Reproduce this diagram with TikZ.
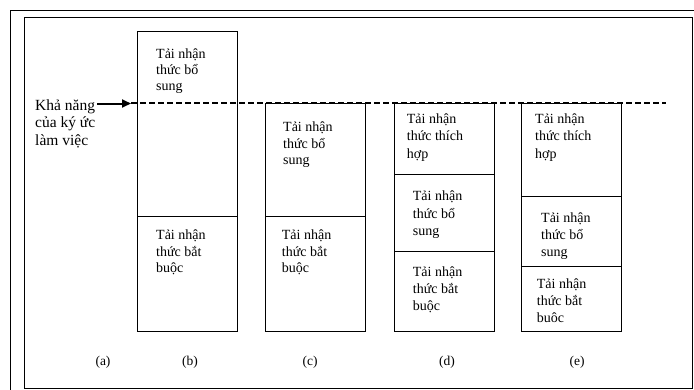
\documentclass[tikz,border=0pt]{standalone}
\usepackage{fontspec}
\setmainfont{Liberation Serif}
\usetikzlibrary{arrows.meta}
\tikzset{
  frameline/.style={line width=0.9pt, black},
  seg/.style={draw, line width=0.9pt, black, inner sep=0pt, outer sep=0pt, anchor=north west},
  txt/.style={anchor=base west, inner sep=0pt, font=\fontsize{14}{16}\selectfont},
  side/.style={anchor=base west, inner sep=0pt, font=\fontsize{15.5}{17}\selectfont},
  captionlbl/.style={anchor=base, inner sep=0pt, font=\fontsize{13.5}{15}\selectfont},
  capacity/.style={line width=1.8pt, dash pattern=on 5.5pt off 3.5pt},
  pointer/.style={line width=2pt, -{Triangle[length=9pt,width=8pt]}},
}
\newcommand\tblock[5]{%
  \foreach \t [count=\i] in {#5} {\node[txt] (#1\i) at (#2,{#3+(\i-1)*#4}) {\t};}%
}
\newcommand\seg[5]{%
  \node[seg, minimum width={(#4-#2)*1pt}, minimum height={(#5-#3)*1pt}] (#1) at (#2,#3) {};%
}
\begin{document}
\begin{tikzpicture}[x=1pt,y=-1pt]
\useasboundingbox (0,0) rectangle (694,389);
% frames
\draw[frameline] (10.7,389.5) -- (10.7,10.7) -- (694.5,10.7);
\draw[frameline] (24,388) -- (24,17.3) -- (692.8,17.3) -- (692.8,388) -- cycle;

% boxes
\seg{bA}{137.3}{31.7}{237.3}{216.7}
\seg{bB}{137.3}{216.7}{237.3}{331.7}
\seg{cA}{265.3}{103.3}{365}{216.7}
\seg{cB}{265.3}{216.7}{365}{331.7}
\seg{dA}{394}{103.3}{494}{174}
\seg{dB}{394}{174}{494}{251.7}
\seg{dC}{394}{251.7}{494}{331.7}
\seg{eA}{521.7}{103.3}{621.7}{196.7}
\seg{eB}{521.7}{196.7}{621.7}{266.7}
\seg{eC}{521.7}{266.7}{621.7}{331.7}

% texts in boxes
\tblock{tbA}{156}{58}{16.3}{Tải nhận,thức bổ,sung}
\tblock{tbB}{156}{239.5}{16.6}{Tải nhận,thức bắt,buộc}
\tblock{tcA}{283}{131.5}{16.5}{Tải nhận,thức bổ,sung}
\tblock{tcB}{281.7}{239.5}{16.6}{Tải nhận,thức bắt,buộc}
\tblock{tdA}{406.7}{123}{17.5}{Tải nhận,thức thích,hợp}
\tblock{tdB}{412.7}{200.5}{17.5}{Tải nhận,thức bổ,sung}
\tblock{tdC}{412.7}{276}{17.3}{Tải nhận,thức bắt,buộc}
\tblock{teA}{535}{123}{17.5}{Tải nhận,thức thích,hợp}
\tblock{teB}{541}{222.5}{17}{Tải nhận,thức bổ,sung}
\tblock{teC}{536.7}{288.5}{16.8}{Tải nhận,thức bắt,buôc}

% side label
\node[side] (s1) at (35,110) {Khả năng};
\node[side] (s2) at (35,127.7) {của ký ức};
\node[side] (s3) at (35,145) {làm việc};

% arrow and capacity line
\coordinate (arrS) at (97,103.5);
\coordinate (arrT) at (131,103.5);
\coordinate (dashE) at (666,103);
\draw[pointer] (arrS) -- (arrT);
\draw[capacity] (arrT |- dashE) -- (dashE);

% captions
\node[captionlbl] (la) at (103,365) {(a)};
\node[captionlbl] (lb) at (190,365) {(b)};
\node[captionlbl] (lc) at (310,365) {(c)};
\node[captionlbl] (ld) at (447,365) {(d)};
\node[captionlbl] (le) at (577,365) {(e)};
\end{tikzpicture}
\end{document}
